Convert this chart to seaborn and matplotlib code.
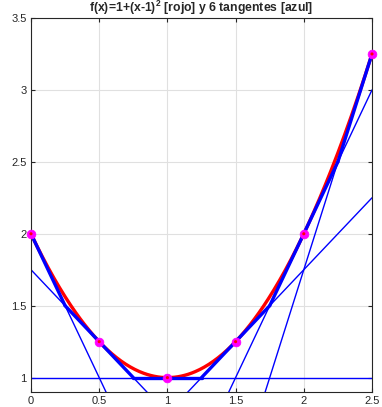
import numpy as np
import pandas as pd
import matplotlib
matplotlib.use("Agg")
import matplotlib.pyplot as plt
import seaborn as sns

# Data
x_pts = [0.0, 0.5, 1.0, 1.5, 2.0, 2.5]
y_pts = [2.0, 1.25, 1.0, 1.25, 2.0, 3.25]
slopes = [-2.0, -1.0, 0.0, 1.0, 2.0, 3.0]
# envelope breakpoints (intersections of neighbouring tangents)
breaks = [0.0, 0.25, 0.75, 1.25, 1.75, 2.25, 2.5]
x_ticks = [0, 0.5, 1, 1.5, 2, 2.5]
y_ticks = [1, 1.5, 2, 2.5, 3, 3.5]
title = "f(x)=1+(x-1)$^2$ [rojo] y 6 tangentes [azul]"

sns.set_theme(style="white")
plt.rcParams["font.family"] = ["Liberation Sans", "DejaVu Sans"]
plt.rcParams["mathtext.fontset"] = "custom"
plt.rcParams["mathtext.rm"] = "Liberation Sans:bold"
plt.rcParams["mathtext.it"] = "Liberation Sans:bold"
plt.rcParams["mathtext.bf"] = "Liberation Sans:bold"

fig = plt.figure(figsize=(3.82, 4.07), dpi=100)
ax = fig.add_axes([31/382, 15/407, (372-31)/382, (392-18)/407])

# red curve from the title formula
xc = np.linspace(0, 2.5, 300)
curve = pd.DataFrame({"x": xc, "y": 1 + (xc - 1) ** 2})
sns.lineplot(data=curve, x="x", y="y", color="#ff0000", lw=2.4, ax=ax, sort=False, estimator=None)

# thin full tangents
for x0, y0, m in zip(x_pts, y_pts, slopes):
    xs = [0.0, 2.5]
    df = pd.DataFrame({"x": xs, "y": [y0 + m * (v - x0) for v in xs]})
    sns.lineplot(data=df, x="x", y="y", color="#0000ff", lw=1.0, ax=ax, sort=False, estimator=None)

# thick envelope segments
for i, (x0, y0, m) in enumerate(zip(x_pts, y_pts, slopes)):
    xs = [breaks[i], breaks[i + 1]]
    df = pd.DataFrame({"x": xs, "y": [y0 + m * (v - x0) for v in xs]})
    sns.lineplot(data=df, x="x", y="y", color="#0000ff", lw=2.4, ax=ax, sort=False, estimator=None)

pts = pd.DataFrame({"x": x_pts, "y": y_pts})
sns.scatterplot(data=pts, x="x", y="y", color="#ff00ff", s=40, edgecolor="#ff00ff", ax=ax, zorder=5, clip_on=False)
sns.scatterplot(data=pts, x="x", y="y", color="#ff0000", s=5, edgecolor="none", ax=ax, zorder=6, clip_on=False)

ax.set_xlim(0, 2.5)
ax.set_ylim(0.9, 3.5)
ax.set_xticks(x_ticks)
ax.set_xticklabels([f"{v:g}" for v in x_ticks])
ax.set_yticks(y_ticks)
ax.set_yticklabels([f"{v:g}" for v in y_ticks])
ax.grid(True, color="#e0e0e0", lw=0.8)
ax.set_axisbelow(True)
ax.tick_params(direction="in", length=3, width=0.8, colors="#262626", labelsize=8,
               top=True, right=True, bottom=True, left=True, pad=3)
for s in ax.spines.values():
    s.set_color("#262626")
    s.set_linewidth(0.8)
    s.set_visible(True)
ax.set_xlabel("")
ax.set_ylabel("")
ax.set_title(title, fontsize=8.8, fontweight="bold", pad=4)

fig.savefig("out.png", dpi=100)
